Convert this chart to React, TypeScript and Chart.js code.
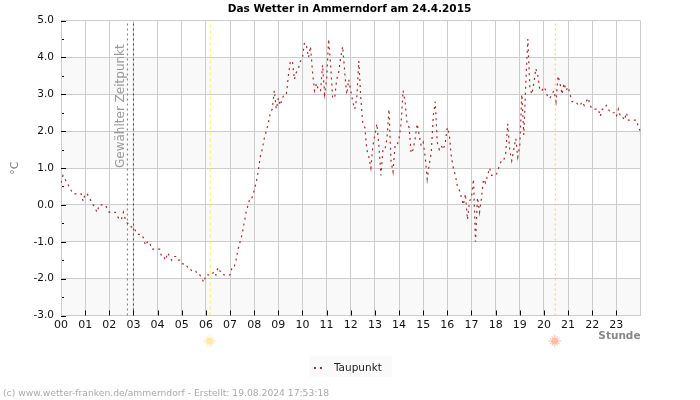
import React, { useEffect, useRef } from "react";
import { Chart, registerables } from "chart.js";

Chart.register(...registerables);

const titleText = "Das Wetter in Ammerndorf am 24.4.2015";
const seriesName = "Taupunkt";
const footerText = "(c) www.wetter-franken.de/ammerndorf - Erstellt: 19.08.2024 17:53:18";
const selectedLabel = "Gewählter Zeitpunkt";

// Dew point in °C, one row per hour, sampled every five minutes.
const taupunkt = [
  0.6, 0.8, 0.7, 0.6, 0.5, 0.4, 0.3, 0.3, 0.3, 0.3, 0.3, 0.1,
  0.3, 0.3, 0.2, 0.1, 0.0, -0.1, -0.2, 0.0, 0.0, 0.0, 0.0, -0.1,
  -0.2, -0.2, -0.2, -0.2, -0.3, -0.4, -0.4, -0.2, -0.4, -0.5, -0.5, -0.6,
  -0.6, -0.7, -0.8, -0.8, -0.8, -0.9, -1.1, -1.0, -1.0, -1.2, -1.2, -1.2,
  -1.2, -1.2, -1.4, -1.4, -1.5, -1.3, -1.4, -1.5, -1.4, -1.4, -1.5, -1.5,
  -1.6, -1.6, -1.6, -1.7, -1.7, -1.8, -1.8, -1.8, -1.9, -1.9, -2.0, -2.1,
  -1.9, -1.9, -1.9, -1.9, -1.8, -1.9, -1.7, -1.8, -1.8, -1.9, -1.9, -1.9,
  -1.9, -1.7, -1.7, -1.5, -1.2, -1.0, -0.8, -0.5, -0.2, 0.0, 0.2, 0.2,
  0.4, 0.6, 0.9, 1.3, 1.5, 1.8, 2.0, 2.2, 2.5, 2.6, 3.1, 2.6,
  2.9, 2.7, 2.9, 3.0, 3.0, 3.5, 3.9, 3.9, 3.4, 3.6, 3.7, 3.9,
  4.0, 4.4, 4.3, 4.0, 4.3, 3.6, 3.1, 3.3, 3.1, 3.1, 3.8, 3.0,
  3.4, 4.5, 3.8, 2.9, 2.9, 3.4, 3.6, 4.0, 4.3, 3.6, 3.0, 3.4,
  3.1, 2.8, 2.6, 2.9, 3.9, 2.9, 2.2, 2.1, 1.5, 1.3, 1.0, 1.6,
  1.9, 2.2, 1.6, 0.8, 1.5, 1.5, 1.8, 2.6, 1.2, 0.9, 1.6, 1.6,
  1.8, 2.2, 3.1, 2.8, 2.2, 2.1, 1.4, 1.5, 1.8, 2.2, 1.9, 1.6,
  1.7, 1.3, 0.7, 1.1, 1.4, 2.4, 2.8, 1.7, 1.5, 1.6, 1.5, 1.7,
  2.1, 1.9, 1.3, 1.0, 0.8, 0.5, 0.4, 0.2, 0.0, 0.3, -0.4, 0.1,
  0.2, 0.7, -1.0, 0.2, -0.2, 0.2, 0.7, 0.6, 0.8, 1.0, 0.8, 0.8,
  0.8, 0.9, 1.1, 1.2, 1.2, 1.4, 2.2, 1.5, 1.2, 1.5, 1.8, 1.3,
  1.6, 3.0, 1.9, 3.3, 4.5, 3.2, 3.0, 3.3, 3.7, 3.5, 3.1, 3.1,
  3.2, 3.1, 2.9, 2.9, 3.0, 3.1, 2.8, 3.5, 3.3, 3.0, 3.3, 3.1,
  3.2, 3.0, 2.8, 2.8, 2.8, 2.7, 2.7, 2.8, 2.7, 2.8, 2.9, 2.7,
  2.6, 2.6, 2.6, 2.6, 2.4, 2.6, 2.6, 2.7, 2.6, 2.5, 2.5, 2.5,
  2.4, 2.6, 2.4, 2.4, 2.3, 2.5, 2.3, 2.3, 2.3, 2.3, 2.3, 2.1,
  2.0,
];

// Event times in hours of the day.
const selectedPrev = 2.75;
const selectedHour = 3;
const sunrise = 6.18;
const sunset = 20.47;

// Shaded temperature bands, low edge in °C, each one degree tall.
const bandLows = [-3, -1, 1, 3];
const minorTicks = [-2.5, -1.5, -0.5, 0.5, 1.5, 2.5, 3.5, 4.5];

const FONT = "'DejaVu Sans'";
const LINE_COLOR = "#a52a2a";

const drawSun = (ctx: CanvasRenderingContext2D, x: number, y: number, color: string) => {
  ctx.save();
  ctx.fillStyle = color;
  ctx.strokeStyle = color;
  ctx.lineWidth = 1;
  ctx.beginPath();
  ctx.arc(x, y, 3.6, 0, Math.PI * 2);
  ctx.fill();
  for (let k = 0; k < 12; k++) {
    const a = (k * Math.PI) / 6;
    const outer = k % 3 === 0 ? 6.5 : 5.5;
    ctx.beginPath();
    ctx.moveTo(x + Math.cos(a) * 3.5, y + Math.sin(a) * 3.5);
    ctx.lineTo(x + Math.cos(a) * outer, y + Math.sin(a) * outer);
    ctx.stroke();
  }
  ctx.restore();
};

// Small canvas with the two dots shown beside the legend text.
const makeLegendSample = () => {
  const c = document.createElement("canvas");
  c.width = 24;
  c.height = 2;
  const g = c.getContext("2d")!;
  g.fillStyle = LINE_COLOR;
  g.fillRect(3, 0, 2, 2);
  g.fillRect(9, 0, 2, 2);
  return c;
};

const decorations = {
  id: "decorations",
  beforeDraw(chart: any) {
    const { ctx, chartArea, scales } = chart;
    ctx.save();
    ctx.fillStyle = "#f9f9f9";
    bandLows.forEach((low) => {
      const top = scales.y.getPixelForValue(low + 1);
      const bottom = scales.y.getPixelForValue(low);
      ctx.fillRect(chartArea.left, top, chartArea.right - chartArea.left, bottom - top);
    });
    // Pale panel behind the legend entry.
    ctx.fillStyle = "#fafafa";
    ctx.fillRect(309, 356, 83, 21);
    ctx.restore();
  },
  afterDraw(chart: any) {
    const { ctx, chartArea, scales } = chart;
    ctx.save();
    ctx.strokeStyle = "#000";
    ctx.lineWidth = 1;
    scales.y.ticks.forEach((t: any) => {
      const y = Math.round(scales.y.getPixelForValue(t.value)) + 0.5;
      ctx.beginPath();
      ctx.moveTo(chartArea.left, y);
      ctx.lineTo(chartArea.left + 5, y);
      ctx.stroke();
    });
    minorTicks.forEach((v) => {
      const y = Math.round(scales.y.getPixelForValue(v)) + 0.5;
      ctx.beginPath();
      ctx.moveTo(chartArea.left + 1, y);
      ctx.lineTo(chartArea.left + 3, y);
      ctx.stroke();
    });
    scales.x.ticks.forEach((t: any) => {
      const x = Math.round(scales.x.getPixelForValue(t.value)) + 0.5;
      if (t.value === 0 || t.value === 24) return;
      ctx.beginPath();
      ctx.moveTo(x, chartArea.bottom);
      ctx.lineTo(x, chartArea.bottom - 5);
      ctx.stroke();
    });

    // Label running up along the selected time marker.
    ctx.save();
    ctx.translate(scales.x.getPixelForValue(selectedPrev) - 3, 168);
    ctx.rotate(-Math.PI / 2);
    ctx.font = `12px ${FONT}`;
    ctx.fillStyle = "#999999";
    ctx.textAlign = "left";
    ctx.textBaseline = "alphabetic";
    ctx.fillText(selectedLabel, 0, 0);
    ctx.restore();

    drawSun(ctx, scales.x.getPixelForValue(sunrise) - 0.5, 341, "#ffe9a8");
    drawSun(ctx, scales.x.getPixelForValue(sunset) - 0.5, 341, "#ffbfa6");

    ctx.font = `9.2px ${FONT}`;
    ctx.fillStyle = "#aaaaaa";
    ctx.textAlign = "left";
    ctx.textBaseline = "alphabetic";
    ctx.fillText(footerText, 3, 396);
    ctx.restore();
  },
};

const verticalMarker = (hour: number, color: string, dash: number[]) => ({
  data: [
    { x: hour, y: -3 },
    { x: hour, y: 5 },
  ],
  borderColor: color,
  borderWidth: 1,
  borderDash: dash,
  pointRadius: 0,
  fill: false,
});

export default function App() {
  const ref = useRef<HTMLCanvasElement | null>(null);

  useEffect(() => {
    if (!ref.current) return;
    const chart = new Chart(ref.current, {
      type: "line",
      data: {
        datasets: [
          {
            label: seriesName,
            data: taupunkt.map((v, i) => ({ x: i / 12, y: v })),
            borderColor: LINE_COLOR,
            backgroundColor: LINE_COLOR,
            borderWidth: 1.2,
            borderDash: [2, 4],
            pointRadius: 0,
            tension: 0,
            fill: false,
          },
          verticalMarker(selectedPrev, "#777777", [2, 3]),
          verticalMarker(selectedHour, "#444444", [2, 3]),
          verticalMarker(sunrise, "#ffee55", [3, 3]),
          verticalMarker(sunset, "#f0c98a", [2, 3]),
        ] as any,
      },
      options: {
        responsive: false,
        animation: false,
        layout: { padding: { left: 0, right: 1, top: 0, bottom: 16.5 } },
        plugins: {
          title: {
            display: true,
            text: titleText,
            color: "#000",
            font: { family: "'DejaVu Sans'", size: 10.5, weight: "bold" },
            padding: { top: 3, bottom: 5 },
          },
          legend: {
            display: true,
            position: "bottom",
            labels: {
              usePointStyle: true,
              pointStyle: makeLegendSample(),
              pointStyleWidth: 11.5,
              boxHeight: 7,
              color: "#222",
              padding: 5,
              font: { family: "'DejaVu Sans'", size: 10.5 },
              filter: (item: any) => item.datasetIndex === 0,
            },
          },
          tooltip: { enabled: false },
        },
        scales: {
          x: {
            type: "linear",
            min: 0,
            max: 24,
            afterFit: (s: any) => {
              s.height = 42.5;
            },
            grid: { color: "#cccccc", lineWidth: 1, drawTicks: false },
            border: { color: "#cccccc" },
            title: {
              display: true,
              text: "Stunde",
              align: "end",
              color: "#888888",
              font: { family: "'DejaVu Sans'", size: 10.5, weight: "bold" },
              padding: { top: 0, bottom: 15.5 },
            },
            ticks: {
              stepSize: 1,
              autoSkip: false,
              maxRotation: 0,
              color: "#111",
              padding: 3,
              font: { family: "'DejaVu Sans'", size: 11 },
              callback: (v: any) => (v === 24 ? "" : String(v).padStart(2, "0")),
            },
          },
          y: {
            type: "linear",
            min: -3,
            max: 5,
            afterFit: (s: any) => {
              s.width = 61;
            },
            grid: { color: "#cccccc", lineWidth: 1, drawTicks: false },
            border: { color: "#cccccc" },
            title: {
              display: true,
              text: "°C",
              color: "#777777",
              font: { family: "'DejaVu Sans'", size: 11 },
              padding: { top: 9, bottom: 0 },
            },
            ticks: {
              stepSize: 1,
              color: "#111",
              padding: 7,
              font: { family: "'DejaVu Sans'", size: 10.5 },
              callback: (v: any) => Number(v).toFixed(1),
            },
          },
          // Blank right-hand axis holding the margin beside the plot.
          margin: {
            type: "linear",
            position: "right",
            display: true,
            grid: { display: false },
            border: { display: false },
            ticks: { display: false },
            afterFit: (s: any) => {
              s.width = 58.5;
            },
          },
        },
      },
      plugins: [decorations],
    } as any);
    return () => chart.destroy();
  }, []);

  return (
    <canvas
      ref={ref}
      width={700}
      height={400}
      style={{ position: "fixed", left: 0, top: 0, display: "block" }}
    />
  );
}
